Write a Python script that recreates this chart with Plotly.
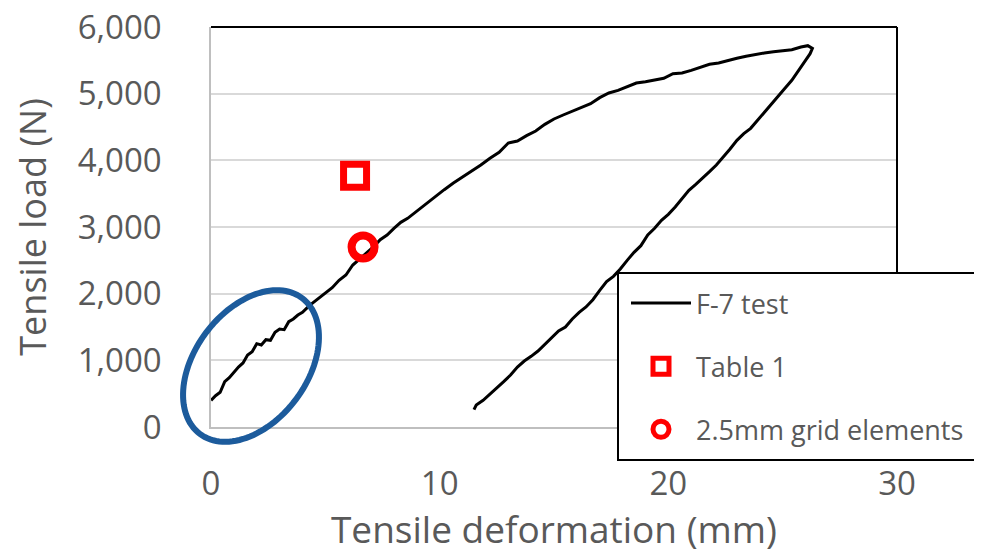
import numpy as np
import plotly.graph_objects as go

# ---- data ----
load_x = [0.0, 0.2, 0.4, 0.6, 0.8, 1.0, 1.2, 1.4, 1.6, 1.8, 2.0, 2.2, 2.4, 2.6, 2.8, 3.0,
          3.2, 3.4, 3.6, 3.8, 4.0, 4.3, 4.6, 5.0, 5.3, 5.6, 5.9, 6.2, 6.5, 6.8, 7.1, 7.4,
          7.7, 8.0, 8.3, 8.6, 9.0, 9.4, 9.8, 10.2, 10.6, 11.0, 11.4, 11.8, 12.2, 12.6,
          13.0, 13.4, 13.8, 14.2, 14.6, 15.0, 15.4, 15.8, 16.2, 16.6, 17.0, 17.4, 17.8,
          18.2, 18.6, 19.0, 19.4, 19.8, 20.2, 20.6, 21.0, 21.4, 21.8, 22.2, 22.6, 23.0,
          23.4, 23.8, 24.2, 24.6, 25.0, 25.4, 25.8, 26.1, 26.3]
load_y = [400, 470, 520, 680, 740, 820, 900, 960, 1080, 1130, 1250, 1230, 1310, 1300, 1420, 1470,
          1460, 1580, 1620, 1680, 1720, 1820, 1900, 2000, 2090, 2200, 2280, 2430, 2520, 2620, 2700, 2810,
          2880, 2980, 3070, 3130, 3240, 3350, 3450, 3560, 3660, 3750, 3830, 3930, 4030, 4120,
          4260, 4290, 4370, 4440, 4540, 4620, 4680, 4740, 4790, 4850, 4940, 5010, 5050,
          5100, 5160, 5180, 5210, 5230, 5300, 5310, 5350, 5400, 5440, 5460, 5500, 5530,
          5560, 5590, 5610, 5630, 5640, 5660, 5700, 5720, 5680]

unload_x = [26.2, 26.0, 25.7, 25.4, 25.1, 24.8, 24.5, 24.2, 23.9, 23.6, 23.3, 23.0, 22.7, 22.4,
            22.1, 21.8, 21.5, 21.2, 20.9, 20.6, 20.3, 20.0, 19.7, 19.4, 19.1, 18.8, 18.5, 18.2,
            17.9, 17.6, 17.3, 17.0, 16.7, 16.4, 16.1, 15.8, 15.5, 15.2, 14.9, 14.6, 14.3, 14.0,
            13.7, 13.4, 13.1, 12.8, 12.5, 12.2, 11.9, 11.6, 11.5]
unload_y = [5600, 5500, 5350, 5200, 5080, 4960, 4830, 4720, 4600, 4480, 4400, 4300, 4170, 4050,
            3930, 3830, 3730, 3640, 3550, 3420, 3300, 3190, 3100, 2980, 2880, 2720, 2620, 2500,
            2370, 2260, 2180, 2050, 1910, 1800, 1720, 1620, 1500, 1440, 1340, 1250, 1140, 1060,
            990, 900, 780, 680, 590, 500, 400, 330, 260]

table1_x = [6.3]
table1_y = [3770]
grid_x = [6.65]
grid_y = [2700]

x_ticks = [0, 10, 20, 30]
y_ticks = [0, 1000, 2000, 3000, 4000, 5000, 6000]
y_tick_text = ["0", "1,000", "2,000", "3,000", "4,000", "5,000", "6,000"]

test_x = load_x + unload_x
test_y = load_y + unload_y

# ---- layout geometry (page body adds an 8px offset) ----
OFF = 8
W, H = 974, 546
ML, MT = 203, 19
PW, PH = 686, 400
MR, MB = W - ML - PW, H - MT - PH
FONT = "Open Sans"
GREY = "#595959"


def px2paper(sx, sy):
    fx, fy = sx - OFF, sy - OFF
    return (fx - ML) / PW, (MT + PH - fy) / PH


fig = go.Figure()
fig.add_trace(go.Scatter(x=test_x, y=test_y, mode="lines", name="F-7 test",
                         line=dict(color="black", width=3), legendgroup="a"))
fig.add_trace(go.Scatter(x=table1_x, y=table1_y, mode="markers", name="Table 1",
                         marker=dict(symbol="square-open", size=23, color="#ff0000",
                                     line=dict(width=7, color="#ff0000")), legendgroup="b"))
fig.add_trace(go.Scatter(x=grid_x, y=grid_y, mode="markers", name="2.5mm grid elements",
                         marker=dict(symbol="circle-open", size=23, color="#ff0000",
                                     line=dict(width=8, color="#ff0000")), legendgroup="c"))

shapes = []
# top and right black border
shapes.append(dict(type="line", xref="paper", yref="paper", x0=0, x1=1, y0=1, y1=1,
                   line=dict(color="black", width=2), layer="above"))
shapes.append(dict(type="line", xref="paper", yref="paper", x0=1, x1=1, y0=0, y1=1,
                   line=dict(color="black", width=2), layer="above"))

# blue ellipse (annotation highlight), screen-pixel geometry
cx, cy, a, b, ang = 251, 366, 85, 56, np.deg2rad(53)
t = np.linspace(0, 2 * np.pi, 121)
ex = cx + a * np.cos(ang) * np.cos(t) - b * np.sin(ang) * np.sin(t)
ey = cy - (a * np.sin(ang) * np.cos(t) + b * np.cos(ang) * np.sin(t))
pts = [px2paper(u, v) for u, v in zip(ex, ey)]
path = "M " + " L ".join(f"{u:.5f},{v:.5f}" for u, v in pts) + " Z"
shapes.append(dict(type="path", xref="paper", yref="paper", path=path,
                   line=dict(color="#1c5b9c", width=6), layer="above"))

# legend box
lx0, ly0 = px2paper(618, 273)
lx1, ly1 = px2paper(1010, 460)
shapes.append(dict(type="rect", xref="paper", yref="paper", x0=lx0, x1=lx1, y0=ly1, y1=ly0,
                   fillcolor="white", line=dict(color="black", width=2), layer="above"))
legx, legy = px2paper(626, 279)

fig.update_layout(
    width=W, height=H,
    margin=dict(l=ML, r=MR, t=MT, b=MB, autoexpand=False),
    paper_bgcolor="white", plot_bgcolor="white",
    font=dict(family=FONT, color=GREY),
    shapes=shapes,
    showlegend=True,
    legend=dict(x=legx, y=legy, xanchor="left", yanchor="top",
                bgcolor="rgba(0,0,0,0)", borderwidth=0,
                font=dict(family=FONT, size=27, color=GREY),
                traceorder="grouped", tracegroupgap=25, itemwidth=60),
    xaxis=dict(range=[0, 30], tickvals=x_ticks, showgrid=False,
               showline=True, linecolor="#bfbfbf", linewidth=1.5,
               ticks="", ticklabelstandoff=27, zeroline=False, ticklabeloverflow="allow",
               tickfont=dict(family=FONT, size=33, color=GREY),
               title=dict(text="Tensile deformation (mm)", standoff=4,
                          font=dict(family=FONT, size=37, color=GREY))),
    yaxis=dict(range=[0, 6000], tickvals=y_ticks, ticktext=y_tick_text,
               showgrid=True, gridcolor="#d9d9d9", gridwidth=1.5,
               showline=True, linecolor="#bfbfbf", linewidth=1.5,
               ticks="", ticklabelstandoff=41, zeroline=False, ticklabeloverflow="allow",
               tickfont=dict(family=FONT, size=33, color=GREY),
               title=dict(text="Tensile load (N)", standoff=27,
                          font=dict(family=FONT, size=36, color=GREY))),
)

fig.write_html("out.html")
